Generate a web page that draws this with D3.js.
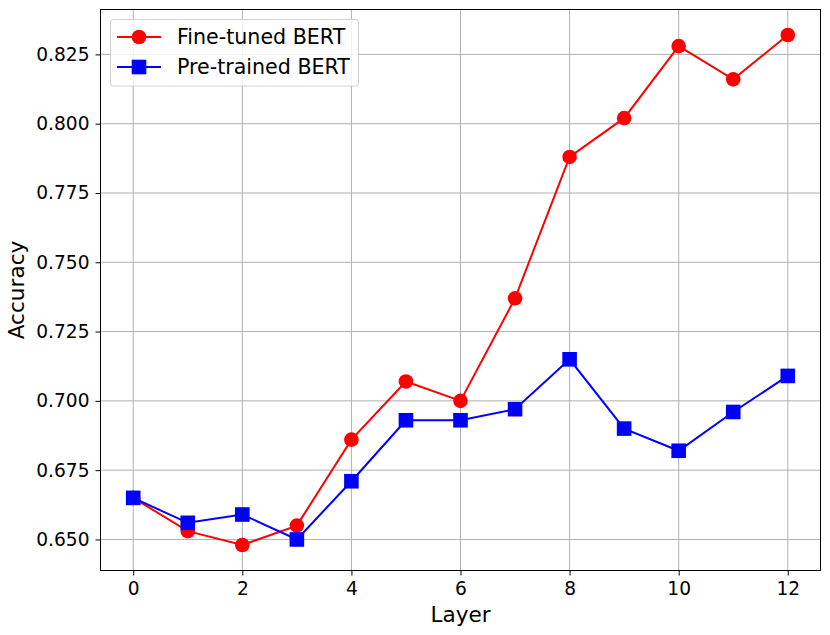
<!DOCTYPE html>
<html>
<head>
<meta charset="utf-8">
<script src="https://cdn.jsdelivr.net/npm/d3@7"></script>
<style>
  html, body { margin: 0; padding: 0; background: #fff; }
  svg { display: block; font-family: "DejaVu Sans", sans-serif; }
</style>
</head>
<body>
<svg id="chart" width="830" height="635"></svg>
<script>
const layers = [0,1,2,3,4,5,6,7,8,9,10,11,12];
const fineTuned = [0.665,0.653,0.648,0.655,0.686,0.707,0.700,0.737,0.788,0.802,0.828,0.816,0.832];
const preTrained = [0.665,0.656,0.659,0.650,0.671,0.693,0.693,0.697,0.715,0.690,0.682,0.696,0.709];
const xTicks = [0,2,4,6,8,10,12];
const yTicks = [0.650,0.675,0.700,0.725,0.750,0.775,0.800,0.825];
const seriesNames = ["Fine-tuned BERT","Pre-trained BERT"];
const seriesColors = ["#ff0000","#0000ff"];

const svg = d3.select("#chart");
const L = 100.5, R = 820.5, T = 9.5, B = 570.5;

const x = d3.scaleLinear().domain([-0.6, 12.6]).range([L, R]);
const y = d3.scaleLinear().domain([0.6388, 0.8412]).range([B, T]);

// grid
const g = svg.append("g");
g.selectAll(".vg").data(xTicks).enter().append("line")
  .attr("x1", d => x(d)).attr("x2", d => x(d)).attr("y1", T).attr("y2", B)
  .attr("stroke", "#b0b0b0").attr("stroke-width", 1);
g.selectAll(".hg").data(yTicks).enter().append("line")
  .attr("y1", d => y(d)).attr("y2", d => y(d)).attr("x1", L).attr("x2", R)
  .attr("stroke", "#b0b0b0").attr("stroke-width", 1);

// axes
const xAxis = d3.axisBottom(x).tickValues(xTicks).tickSize(5).tickPadding(6).tickFormat(d3.format("d"));
const yAxis = d3.axisLeft(y).tickValues(yTicks).tickSize(5).tickPadding(6).tickFormat(d3.format(".3f"));
const gx = svg.append("g").attr("transform", `translate(0,${B})`).call(xAxis);
const gy = svg.append("g").attr("transform", `translate(${L},0)`).call(yAxis);
[gx, gy].forEach(a => {
  a.select(".domain").remove();
  a.selectAll("text").attr("font-size", 18.6).attr("font-family", "DejaVu Sans").attr("fill", "#000");
  a.selectAll("line").attr("stroke", "#000").attr("stroke-width", 1);
});

// frame
svg.append("rect").attr("x", L).attr("y", T).attr("width", R - L).attr("height", B - T)
  .attr("fill", "none").attr("stroke", "#000").attr("stroke-width", 1);

// labels
svg.append("text").attr("x", (L + R) / 2).attr("y", 621.5).attr("text-anchor", "middle")
  .attr("font-size", 21.6).text("Layer");
svg.append("text").attr("transform", `translate(24,${(T + B) / 2}) rotate(-90)`).attr("text-anchor", "middle")
  .attr("font-size", 21.6).text("Accuracy");

const line = d3.line().x((d, i) => x(layers[i])).y(d => y(d));

// series
[fineTuned, preTrained].forEach((vals, si) => {
  const c = seriesColors[si];
  svg.append("path").datum(vals).attr("d", line).attr("fill", "none")
    .attr("stroke", c).attr("stroke-width", 2);
  if (si === 0) {
    svg.selectAll(".c0").data(vals).enter().append("circle")
      .attr("cx", (d, i) => x(layers[i])).attr("cy", d => y(d)).attr("r", 7.3).attr("fill", c);
  } else {
    svg.selectAll(".s1").data(vals).enter().append("rect")
      .attr("x", (d, i) => x(layers[i]) - 7.3).attr("y", d => y(d) - 7.3)
      .attr("width", 14.6).attr("height", 14.6).attr("fill", c);
  }
});

// legend
const lg = svg.append("g");
lg.append("rect").attr("x", 110.5).attr("y", 19.5).attr("width", 248).attr("height", 66.5).attr("rx", 3)
  .attr("fill", "#fff").attr("fill-opacity", 0.8).attr("stroke", "#d0d0d0").attr("stroke-width", 1);
seriesNames.forEach((name, i) => {
  const cy = 37 + i * 30;
  const c = seriesColors[i];
  lg.append("line").attr("x1", 117).attr("x2", 161).attr("y1", cy).attr("y2", cy)
    .attr("stroke", c).attr("stroke-width", 2);
  if (i === 0) lg.append("circle").attr("cx", 139).attr("cy", cy).attr("r", 7.3).attr("fill", c);
  else lg.append("rect").attr("x", 131.7).attr("y", cy - 7.3).attr("width", 14.6).attr("height", 14.6).attr("fill", c);
  lg.append("text").attr("x", 177).attr("y", cy).attr("dy", "0.35em").attr("font-size", 20.6).text(name);
});
</script>
</body>
</html>
